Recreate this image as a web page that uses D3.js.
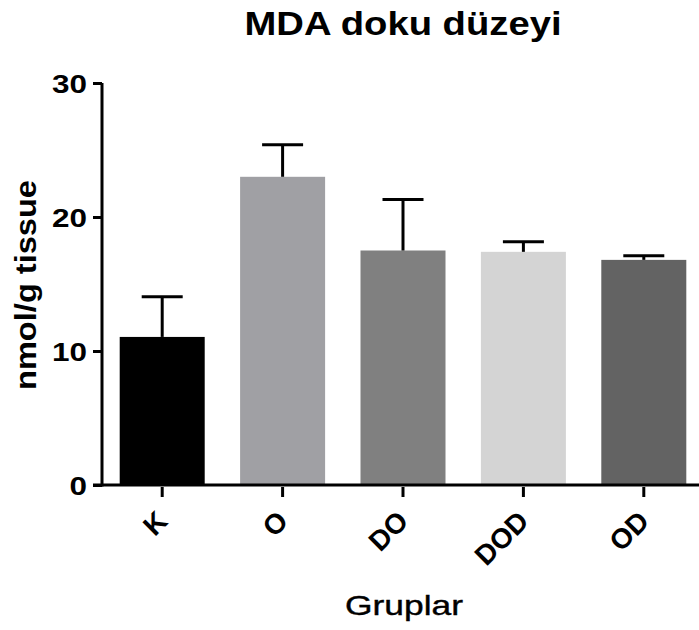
<!DOCTYPE html>
<html>
<head>
<meta charset="utf-8">
<script src="https://cdn.jsdelivr.net/npm/d3@7"></script>
<style>
  html, body { margin: 0; padding: 0; background: #fff; }
  svg { display: block; }
  text { font-family: "Liberation Sans", Arial, sans-serif; fill: #000; }
</style>
</head>
<body>
<svg id="chart" width="699" height="630"></svg>
<script>
// MDA tissue levels per group (mean and SEM)
const groups = ["K", "O", "DO", "DOD", "OD"];
const means = [11.05, 23.0, 17.5, 17.4, 16.8];
const sem = [3.0, 2.4, 3.8, 0.75, 0.3];
const barColors = ["#000000", "#a0a0a4", "#808080", "#d4d4d4", "#636363"];
const yTicks = [0, 10, 20, 30];

const svg = d3.select("#chart");

const x = d3.scaleBand()
  .domain(groups)
  .range([102, 704])
  .paddingInner(0.294)
  .paddingOuter(0.147);

const y = d3.scaleLinear().domain([0, 30]).range([485, 83]);

// Bars
svg.append("g").selectAll("rect")
  .data(groups)
  .join("rect")
  .attr("x", d => x(d))
  .attr("width", x.bandwidth())
  .attr("y", (d, i) => y(means[i]))
  .attr("height", (d, i) => y(0) - y(means[i]))
  .attr("fill", (d, i) => barColors[i]);

// Error bars (upper only)
const capHalf = 20.5;
const eb = svg.append("g").attr("stroke", "#000").attr("stroke-width", 3).attr("fill", "none");
groups.forEach((g, i) => {
  const cx = x(g) + x.bandwidth() / 2;
  eb.append("line")
    .attr("x1", cx).attr("x2", cx)
    .attr("y1", y(means[i])).attr("y2", y(means[i] + sem[i]));
  eb.append("line")
    .attr("x1", cx - capHalf).attr("x2", cx + capHalf)
    .attr("y1", y(means[i] + sem[i])).attr("y2", y(means[i] + sem[i]));
});

// Y axis
const yAxis = d3.axisLeft(y).tickValues(yTicks).tickSize(9).tickPadding(6).tickFormat(d3.format("d"));
const gy = svg.append("g").attr("transform", "translate(102,0)").call(yAxis);
gy.select(".domain").attr("stroke", "#000").attr("stroke-width", 3).attr("d", `M0,${y(30)}V${y(0) + 1.5}`);
gy.selectAll(".tick line").attr("stroke", "#000").attr("stroke-width", 3);
gy.selectAll(".tick text")
  .style("font-family", "'Liberation Sans', Arial, sans-serif")
  .style("font-weight", "bold")
  .style("font-size", "26px")
  .attr("fill", "#000")
  .attr("dy", "0.36em")
  .attr("textLength", d => String(d).length * 17.5)
  .attr("lengthAdjust", "spacingAndGlyphs");

// X axis
const xAxis = d3.axisBottom(x).tickSize(12).tickFormat(d => d);
const gx = svg.append("g").attr("transform", `translate(0,${y(0)})`).call(xAxis);
gx.select(".domain").attr("stroke", "#000").attr("stroke-width", 3).attr("d", "M93,0H699");
gx.selectAll(".tick line").attr("stroke", "#000").attr("stroke-width", 3).attr("y1", 2);
gx.selectAll(".tick text")
  .style("font-family", "'Liberation Sans', Arial, sans-serif")
  .style("font-weight", "bold")
  .style("font-size", "28px")
  .attr("fill", "#000")
  .attr("text-anchor", "end")
  .attr("y", 0).attr("dy", "0.35em")
  .attr("transform", "translate(0,31) rotate(-45)");

// Title
svg.append("text")
  .attr("x", 403).attr("y", 35)
  .attr("text-anchor", "middle")
  .attr("textLength", 317).attr("lengthAdjust", "spacingAndGlyphs")
  .style("font-weight", "bold").style("font-size", "34px")
  .text("MDA doku düzeyi");

// Y axis title
svg.append("text")
  .attr("transform", "translate(36,285) rotate(-90)")
  .attr("text-anchor", "middle")
  .attr("textLength", 210).attr("lengthAdjust", "spacingAndGlyphs")
  .style("font-weight", "bold").style("font-size", "29px")
  .text("nmol/g tissue");

// X axis title
svg.append("text")
  .attr("x", 404).attr("y", 615)
  .attr("text-anchor", "middle")
  .attr("textLength", 118).attr("lengthAdjust", "spacingAndGlyphs")
  .attr("stroke", "#000").attr("stroke-width", 0.4)
  .style("font-size", "28px")
  .text("Gruplar");
</script>
</body>
</html>
